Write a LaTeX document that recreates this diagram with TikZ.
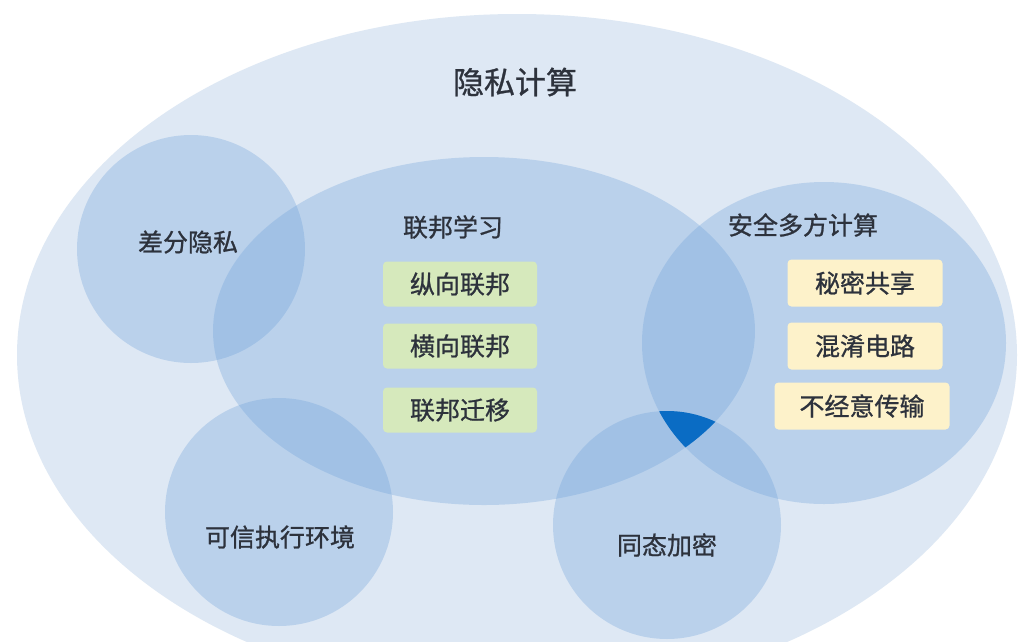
\documentclass[tikz,border=0pt]{standalone}
\usepackage{fontspec}
\newfontfamily\cjk[FakeBold=0.9]{Noto Sans CJK SC}
\definecolor{bgall}{RGB}{222,232,244}
\definecolor{setblue}{RGB}{106,159,217}
\definecolor{coreblue}{RGB}{10,108,196}
\definecolor{txt}{RGB}{45,50,60}
\definecolor{boxgreen}{RGB}{214,233,188}
\definecolor{boxyellow}{RGB}{253,242,202}
\tikzset{
  setfill/.style={fill=setblue, fill opacity=0.3},
  lbl/.style={text=txt, font=\cjk\fontsize{25}{28}\selectfont, inner sep=0pt},
  ttl/.style={text=txt, font=\cjk\fontsize{31}{34}\selectfont, inner sep=0pt},
  gbox/.style={fill=boxgreen, rounded corners=4pt, minimum width=154pt, minimum height=45pt, inner sep=0pt, text=txt, font=\cjk\fontsize{25}{28}\selectfont},
  ybox/.style={fill=boxyellow, rounded corners=4pt, minimum width=155pt, minimum height=47pt, inner sep=0pt, text=txt, font=\cjk\fontsize{25}{28}\selectfont}
}
\begin{document}
\begin{tikzpicture}[x=1pt,y=-1pt]
\useasboundingbox (0,0) rectangle (1023,641);
\fill[white] (0,0) rectangle (1023,641);
% outer set
\begin{scope}
\clip (0,0) rectangle (1023,641);
\fill[bgall] (517,355) ellipse [x radius=500pt, y radius=341pt];
\end{scope}
% sets
\fill[setfill] (191,249) ellipse [x radius=114pt, y radius=114pt];
\fill[setfill] (484,331) ellipse [x radius=271pt, y radius=174pt];
\fill[setfill] (824,343) ellipse [x radius=182pt, y radius=161pt];
\begin{scope}
\clip (0,0) rectangle (1023,641);
\fill[setfill] (279,512) ellipse [x radius=114pt, y radius=114pt];
\fill[setfill] (667,525) ellipse [x radius=114pt, y radius=114pt];
\end{scope}
% core intersection
\begin{scope}
\clip (484,331) ellipse [x radius=271pt, y radius=174pt];
\clip (824,343) ellipse [x radius=182pt, y radius=161pt];
\fill[coreblue] (667,525) ellipse [x radius=114pt, y radius=114pt];
\end{scope}
% labels
\node[ttl] (title) at (515,82) {隐私计算};
\node[lbl] (dp) at (188,242) {差分隐私};
\node[lbl] (fl) at (453,227) {联邦学习};
\node[lbl] (mpc) at (803,225) {安全多方计算};
\node[lbl] (tee) at (280,537) {可信执行环境};
\node[lbl] (he) at (667,545) {同态加密};
% boxes
\node[gbox] (vfl) at (460,284) {纵向联邦};
\node[gbox] (hfl) at (460,346) {横向联邦};
\node[gbox] (ftl) at (460,410) {联邦迁移};
\node[ybox] (ss) at (865,283) {秘密共享};
\node[ybox] (gc) at (865,346) {混淆电路};
\node[ybox,minimum width=175pt] (ot) at (862,406) {不经意传输};
\end{tikzpicture}
\end{document}
